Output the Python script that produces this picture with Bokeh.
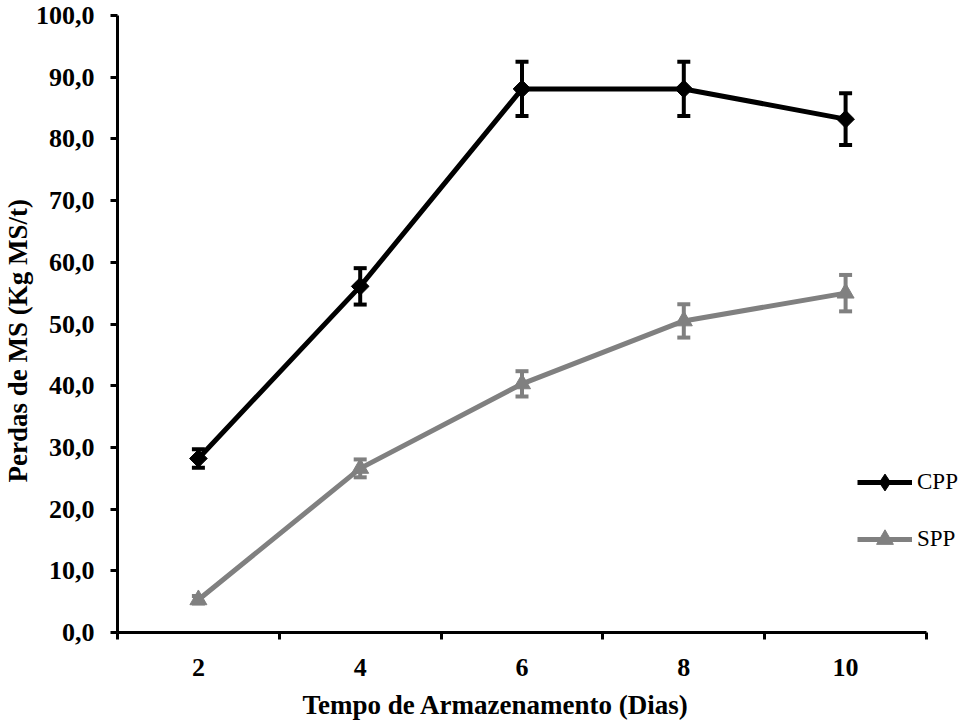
import numpy as np
from bokeh.plotting import figure
from bokeh.models import (ColumnDataSource, Whisker, TeeHead, FixedTicker,
                          CustomJSTickFormatter, Legend, LegendItem, Range1d, Title)
from bokeh.embed import file_html
from bokeh.resources import INLINE

# ---- data ----
dias = [2, 4, 6, 8, 10]
cpp = [28.2, 56.1, 88.1, 88.1, 83.2]
cpp_err = [1.5, 2.95, 4.4, 4.4, 4.2]
spp = [5.3, 26.6, 40.3, 50.5, 55.0]
spp_err = [0.6, 1.45, 2.05, 2.7, 2.95]
y_ticks = [0, 10, 20, 30, 40, 50, 60, 70, 80, 90, 100]
x_bounds = [1, 3, 5, 7, 9, 11]
series_names = ["CPP", "SPP"]
x_title = "Tempo de Armazenamento (Dias)"
y_title = "Perdas de MS (Kg MS/t)"

FONT = "Liberation Serif"
BLACK = "#000000"
GRAY = "#808080"

AXIS_W = 809          # pixel length of the drawn x axis
FRAME_W = 842         # frame extends right to leave room for the legend
x_end = x_bounds[-1] + (FRAME_W - AXIS_W) / AXIS_W * (x_bounds[-1] - x_bounds[0])

p = figure(frame_width=FRAME_W, frame_height=617,
           min_border_left=112, min_border_top=15, min_border_right=0,
           min_border_bottom=70,
           x_range=Range1d(x_bounds[0], x_end), y_range=Range1d(0, 100),
           output_backend="svg", toolbar_location=None, tools="")
p.outline_line_color = None
p.xgrid.visible = False
p.ygrid.visible = False
p.background_fill_color = "white"

# axes
p.xaxis.bounds = (x_bounds[0], x_bounds[-1])
p.xaxis.ticker = FixedTicker(ticks=dias, minor_ticks=x_bounds)
p.xaxis.major_tick_out = 0
p.xaxis.major_tick_in = 0
p.xaxis.minor_tick_out = 7
p.xaxis.minor_tick_in = 0
p.xaxis.minor_tick_line_width = 3
p.xaxis.minor_tick_line_color = BLACK
p.xaxis.axis_line_width = 3
p.xaxis.axis_line_color = BLACK
p.xaxis.major_label_standoff = 19

p.yaxis.ticker = FixedTicker(ticks=y_ticks)
p.yaxis.minor_tick_line_color = None
p.yaxis.major_tick_out = 7
p.yaxis.major_tick_in = 0
p.yaxis.major_tick_line_width = 3
p.yaxis.major_tick_line_color = BLACK
p.yaxis.axis_line_width = 3
p.yaxis.axis_line_color = BLACK
p.yaxis.major_label_standoff = 16
p.yaxis.formatter = CustomJSTickFormatter(code="return tick.toFixed(1).replace('.', ',');")

for ax in (p.xaxis, p.yaxis):
    ax.major_label_text_font = FONT
    ax.major_label_text_font_style = "bold"
    ax.major_label_text_font_size = "26px"
    ax.major_label_text_color = BLACK

# axis titles (positioned like the original, not centred on the frame)
xt = Title(text=x_title, align="left", offset=185, standoff=18,
           text_font=FONT, text_font_style="bold", text_font_size="27px",
           text_color=BLACK)
p.add_layout(xt, "below")
yt = Title(text=y_title, align="left", offset=150, standoff=0,
           text_font=FONT, text_font_style="bold", text_font_size="27px",
           text_color=BLACK)
p.add_layout(yt, "left")

src_c = ColumnDataSource(dict(x=dias, y=cpp,
                              upper=[v + e for v, e in zip(cpp, cpp_err)],
                              lower=[v - e for v, e in zip(cpp, cpp_err)]))
src_s = ColumnDataSource(dict(x=dias, y=spp,
                              upper=[v + e for v, e in zip(spp, spp_err)],
                              lower=[v - e for v, e in zip(spp, spp_err)]))

l_c = p.line("x", "y", source=src_c, line_color=BLACK, line_width=5)
l_s = p.line("x", "y", source=src_s, line_color=GRAY, line_width=5)

for src, col in ((src_c, BLACK), (src_s, GRAY)):
    w = Whisker(base="x", upper="upper", lower="lower", source=src,
                line_color=col, line_width=4,
                upper_head=TeeHead(size=13, line_width=4, line_color=col),
                lower_head=TeeHead(size=13, line_width=4, line_color=col))
    p.add_layout(w)

m_c = p.scatter("x", "y", source=src_c, marker="square", angle=np.pi / 4,
                size=12.5, fill_color=BLACK, line_color=BLACK)
m_s = p.scatter("x", "y", source=src_s, marker="triangle",
                size=17, fill_color=GRAY, line_color=GRAY)

# legend-only marker renderers (size 0 in the plot)
lg_c = p.scatter("x", "y", source=src_c, marker="diamond", size=0,
                 fill_color=BLACK, line_color=BLACK)
lg_s = p.scatter("x", "y", source=src_s, marker="triangle", size=0,
                 fill_color=GRAY, line_color=GRAY)

legend = Legend(items=[LegendItem(label=series_names[0], renderers=[l_c, lg_c]),
                       LegendItem(label=series_names[1], renderers=[l_s, lg_s])],
                location=(740, 72), orientation="vertical",
                border_line_color=None, background_fill_alpha=0,
                padding=0, margin=0, spacing=15,
                glyph_width=55, glyph_height=42, label_height=42,
                label_standoff=5, label_text_font=FONT,
                label_text_font_size="23px", label_text_color=BLACK)
p.add_layout(legend)

open("out.html", "w").write(file_html(p, INLINE))
